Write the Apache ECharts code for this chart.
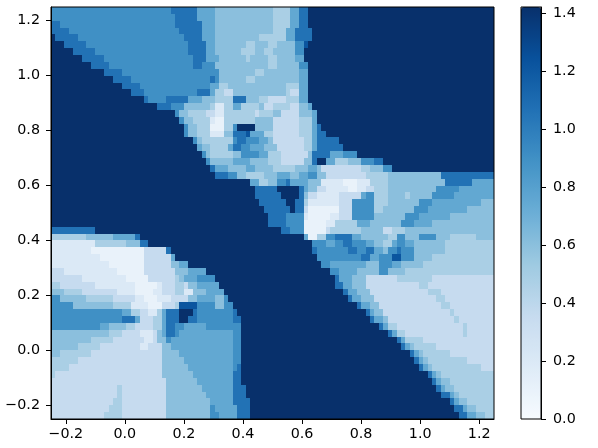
<!DOCTYPE html>
<html>
<head>
<meta charset="utf-8">
<style>html,body{margin:0;padding:0;background:#fff}#chart{width:598px;height:448px}</style>
<script src="https://cdn.jsdelivr.net/npm/echarts@6/dist/echarts.min.js"></script>
</head>
<body>
<div id="chart"></div>
<script>
// value of each shade
var levelValues = [0.1, 0.2, 0.355, 0.48, 0.6, 0.75, 0.9, 1.06, 1.22, 1.42];
var blues = ['#f7fbff', '#deebf7', '#c6dbef', '#9ecae1', '#6baed6', '#4292c6', '#2171b5', '#08519c', '#08306b'];
var xTicks = [-0.2, 0, 0.2, 0.4, 0.6, 0.8, 1, 1.2];
var yTicks = [-0.2, 0, 0.2, 0.4, 0.6, 0.8, 1, 1.2];
var barTicks = [0, 0.2, 0.4, 0.6, 0.8, 1, 1.2, 1.4];
var cols = 100, rowCount = 60;
// top row first, each entry is level:endColumn
var rows = [
"6:27 7:33 5:37 4:50 3:54 5:56 7:58 9:100",
"6:28 7:33 5:37 4:50 3:54 5:56 7:58 9:100",
"7:2 6:28 7:34 5:37 4:50 3:54 5:56 7:58 9:100",
"7:4 6:29 7:34 5:37 4:50 3:53 5:55 7:59 9:100",
"9:1 7:6 6:30 7:34 5:37 4:47 3:53 5:55 7:59 9:100",
"9:3 7:8 6:31 7:35 5:37 4:44 3:46 4:49 3:51 4:53 4:55 6:57 8:58 9:100",
"9:5 7:10 6:31 7:35 5:37 4:43 3:46 4:48 3:50 4:52 4:55 6:57 9:100",
"9:7 7:12 6:32 7:35 5:38 4:44 3:45 4:49 3:51 4:55 5:57 9:100",
"9:9 7:13 6:32 7:34 6:37 4:49 3:51 4:56 6:58 9:100",
"9:12 7:16 6:38 4:46 3:48 4:56 5:58 9:100",
"9:14 7:18 6:36 7:37 6:38 4:44 3:46 4:56 5:58 9:100",
"9:16 7:20 6:36 5:38 3:40 4:53 3:56 5:58 9:100",
"9:18 7:21 6:33 7:36 5:37 3:39 2:41 4:53 3:54 2:56 5:58 9:100",
"9:21 7:22 6:26 7:31 5:34 4:37 3:41 7:44 4:47 3:49 2:53 3:56 5:58 9:100",
"9:24 7:27 6:30 4:36 3:37 1:39 3:41 5:43 3:47 4:48 2:50 3:54 2:56 4:58 5:59 9:100",
"9:28 6:29 4:31 3:35 2:37 1:39 3:46 2:47 3:50 4:52 2:56 4:59 5:60 9:100",
"9:29 6:30 4:32 3:36 1:37 0:39 3:46 4:50 2:56 3:59 5:60 9:100",
"9:30 6:31 4:33 3:36 0:39 3:41 6:42 9:46 4:50 2:56 3:59 5:60 7:61 9:100",
"9:30 6:31 4:33 3:36 1:39 4:41 7:44 8:45 5:48 3:50 2:56 3:59 5:60 7:62 9:100",
"9:32 6:33 4:34 3:41 6:42 7:44 6:47 5:49 4:50 2:57 3:59 5:60 7:65 9:100",
"9:33 5:34 4:36 3:40 5:41 7:43 6:45 5:48 4:51 2:57 3:59 5:60 7:66 9:100",
"9:34 6:35 4:36 3:41 4:43 6:47 5:49 3:52 2:58 4:59 7:63 5:66 6:69 9:100",
"9:35 6:36 4:41 5:45 4:49 3:52 2:57 4:59 7:60 9:62 5:64 3:67 4:70 6:73 7:75 9:100",
"9:36 7:37 5:40 4:44 5:46 4:50 3:55 4:58 5:60 4:61 2:70 3:72 4:75 6:77 9:100",
"9:37 7:40 6:42 4:44 3:48 4:51 5:54 4:56 5:58 6:60 4:62 2:71 3:76 4:88 7:100",
"9:45 5:47 3:49 4:51 6:53 7:54 5:58 4:61 1:66 0:69 1:72 3:76 4:89 7:95 5:100",
"9:46 7:51 9:56 7:57 5:58 4:60 2:62 1:67 0:69 1:71 2:73 3:76 4:87 6:92 5:100",
"9:46 7:52 9:56 7:57 4:58 2:60 1:65 2:70 5:71 6:73 3:76 4:80 3:81 4:86 6:91 5:100",
"9:47 7:53 9:55 7:57 3:58 1:65 2:68 6:73 3:76 4:83 6:86 5:97 4:100",
"9:48 7:54 9:55 7:57 2:58 0:65 2:68 6:73 3:75 4:82 6:85 5:94 4:100",
"9:49 7:53 6:57 1:58 0:63 1:65 2:68 6:73 4:80 6:83 5:90 4:100",
"9:49 7:53 6:57 0:62 1:64 3:69 5:72 4:79 6:82 5:86 4:100",
"7:10 9:52 7:54 6:57 0:62 2:63 3:70 4:75 2:77 3:80 4:100",
"3:8 4:14 5:19 7:20 9:57 5:58 0:60 3:62 6:64 7:68 5:70 4:76 3:78 6:80 4:83 6:87 4:90 3:96 4:100",
"1:10 3:17 4:20 7:22 9:59 6:62 5:64 6:66 7:68 6:71 5:73 4:75 3:77 5:78 6:80 5:82 4:89 3:100",
"1:9 0:21 2:26 7:27 9:59 7:60 6:67 7:69 6:71 7:73 5:75 4:76 6:78 7:79 6:82 4:89 3:100",
"1:11 0:21 2:27 5:28 9:60 6:70 7:72 5:74 6:77 8:79 6:82 4:86 3:100",
"1:13 0:21 2:27 4:29 5:31 9:61 6:63 5:71 4:74 6:77 5:79 4:84 3:100",
"2:3 1:15 0:21 2:28 4:31 5:35 9:63 6:65 5:69 4:74 6:76 4:80 3:100",
"2:7 1:17 0:22 2:28 3:29 4:30 5:33 6:37 9:64 7:65 5:68 4:71 2:78 3:86 2:100",
"3:2 2:10 1:19 0:24 1:25 2:28 3:30 2:31 4:33 5:38 9:64 7:66 5:68 4:71 2:83 3:85 2:100",
"4:3 3:7 2:15 1:19 0:23 1:25 2:28 3:30 1:32 4:35 5:39 9:66 7:67 5:69 4:72 2:85 3:88 2:100",
"6:2 4:8 3:14 2:19 1:21 0:24 1:27 2:31 4:33 5:37 4:39 6:40 9:67 7:68 5:70 4:73 2:87 3:89 2:100",
"6:5 4:14 3:18 1:22 0:25 2:28 3:29 8:33 6:37 4:39 6:41 9:69 7:70 5:72 4:74 2:88 3:90 2:100",
"6:16 5:18 3:20 2:22 1:24 3:25 5:26 7:29 9:32 7:33 6:41 7:42 9:71 7:72 5:73 4:75 2:90 3:91 2:100",
"6:16 7:19 5:20 2:23 3:25 5:26 7:29 9:31 7:33 6:41 7:43 9:72 7:73 5:75 4:76 2:91 3:92 2:100",
"6:11 5:13 4:17 3:19 2:23 3:25 5:26 7:28 6:30 5:35 6:43 9:74 7:75 5:76 3:78 2:93 3:94 2:100",
"4:13 3:16 2:20 1:23 2:24 4:25 5:26 7:28 6:29 5:41 6:43 9:76 7:77 5:78 3:80 2:93 3:94 2:100",
"4:9 3:14 2:21 1:23 2:24 4:26 6:27 5:41 6:43 9:78 7:79 5:80 3:84 2:100",
"4:6 3:11 2:20 1:22 2:25 4:27 5:41 6:43 9:79 7:80 5:81 4:82 3:87 2:100",
"4:2 3:9 2:25 4:29 5:41 6:43 9:81 7:82 5:83 4:84 3:90 2:100",
"3:6 2:25 4:30 5:41 6:43 9:82 7:83 5:84 4:85 3:94 2:100",
"3:4 2:25 4:31 5:41 6:42 7:43 9:83 7:84 5:85 4:86 3:97 2:100",
"3:1 2:25 4:32 5:41 7:43 9:85 7:86 5:87 4:88 3:100",
"2:26 4:33 5:41 7:43 9:86 7:87 5:88 4:90 3:100",
"2:15 3:16 2:26 4:34 5:41 7:44 9:87 7:88 5:89 4:91 3:100",
"2:15 3:16 2:26 4:35 5:41 7:44 9:88 7:90 5:91 4:92 3:100",
"2:14 3:16 2:26 4:36 5:41 7:45 9:90 7:91 5:92 4:94 3:100",
"2:13 3:16 2:26 4:36 6:37 5:42 7:45 9:91 7:93 5:94 4:96 3:100",
"2:12 3:16 2:26 4:36 6:38 5:42 7:45 9:92 7:94 5:96 4:98 3:100"
];

var xMin = -0.25, xMax = 1.25, yMin = -0.25, yMax = 1.25;
var fontName = 'DejaVu Sans';

// one item per run of equal cells: [x0, x1, y0, y1, value]
var cells = [];
rows.forEach(function (row, r) {
    var start = 0;
    row.split(' ').forEach(function (run) {
        var parts = run.split(':');
        var end = +parts[1];
        cells.push([
            xMin + (xMax - xMin) * start / cols,
            xMin + (xMax - xMin) * end / cols,
            yMax - (yMax - yMin) * (r + 1) / rowCount,
            yMax - (yMax - yMin) * r / rowCount,
            levelValues[+parts[0]]
        ]);
        start = end;
    });
});

function tickText(v) {
    return String(v.toFixed(1)).replace('-', '\u2212');
}

function axisStyle() {
    return {
        axisLine: {show: true, onZero: false, lineStyle: {color: '#000', width: 1}},
        splitLine: {show: false}
    };
}

function renderCell(params, api) {
    var a = api.coord([api.value(0), api.value(3)]);
    var b = api.coord([api.value(1), api.value(2)]);
    var x = Math.round(a[0]), y = Math.round(a[1]);
    return {
        type: 'rect',
        shape: {x: x, y: y, width: Math.round(b[0]) - x, height: Math.round(b[1]) - y},
        style: {fill: api.visual('color')}
    };
}

var myChart = echarts.init(document.getElementById('chart'));
var option = {
    animation: false,
    backgroundColor: '#fff',
    textStyle: {fontFamily: fontName},
    grid: [
        {left: 51, top: 7, width: 443, height: 412, show: true, borderColor: '#000', borderWidth: 1, z: 5, backgroundColor: 'transparent'},
        {left: 521, top: 7, width: 20, height: 412, show: true, borderColor: '#000', borderWidth: 1, z: 5, backgroundColor: 'transparent'}
    ],
    xAxis: [
        Object.assign(axisStyle(), {
            type: 'value', gridIndex: 0, min: xMin, max: xMax, z: 6,
            axisTick: {show: true, length: 5, customValues: xTicks, lineStyle: {color: '#000'}},
            axisLabel: {customValues: xTicks, color: '#000', fontSize: 14.3, margin: 8, fontFamily: fontName, formatter: tickText}
        }),
        {type: 'value', gridIndex: 1, min: 0, max: 1, show: false}
    ],
    yAxis: [
        Object.assign(axisStyle(), {
            type: 'value', gridIndex: 0, min: yMin, max: yMax, z: 6,
            axisTick: {show: true, length: 5, customValues: yTicks, lineStyle: {color: '#000'}},
            axisLabel: {customValues: yTicks, color: '#000', fontSize: 14.3, margin: 11, fontFamily: fontName, formatter: tickText}
        }),
        Object.assign(axisStyle(), {
            type: 'value', gridIndex: 1, position: 'right', min: 0, max: 1.42, z: 6,
            axisTick: {show: true, length: 5, customValues: barTicks, lineStyle: {color: '#000'}},
            axisLabel: {customValues: barTicks, color: '#000', fontSize: 14.3, margin: 12, fontFamily: fontName, formatter: tickText}
        })
    ],
    visualMap: {
        type: 'continuous',
        seriesIndex: 0,
        dimension: 4,
        min: 0,
        max: 1.42,
        calculable: false,
        hoverLink: false,
        padding: 0,
        left: 521,
        top: 7,
        itemWidth: 20,
        itemHeight: 412,
        inRange: {color: blues}
    },
    series: [{
        type: 'custom',
        xAxisIndex: 0,
        yAxisIndex: 0,
        coordinateSystem: 'cartesian2d',
        renderItem: renderCell,
        encode: {x: [0, 1], y: [2, 3]},
        data: cells,
        silent: true,
        clip: true
    }]
};
myChart.setOption(option);
</script>
</body>
</html>
